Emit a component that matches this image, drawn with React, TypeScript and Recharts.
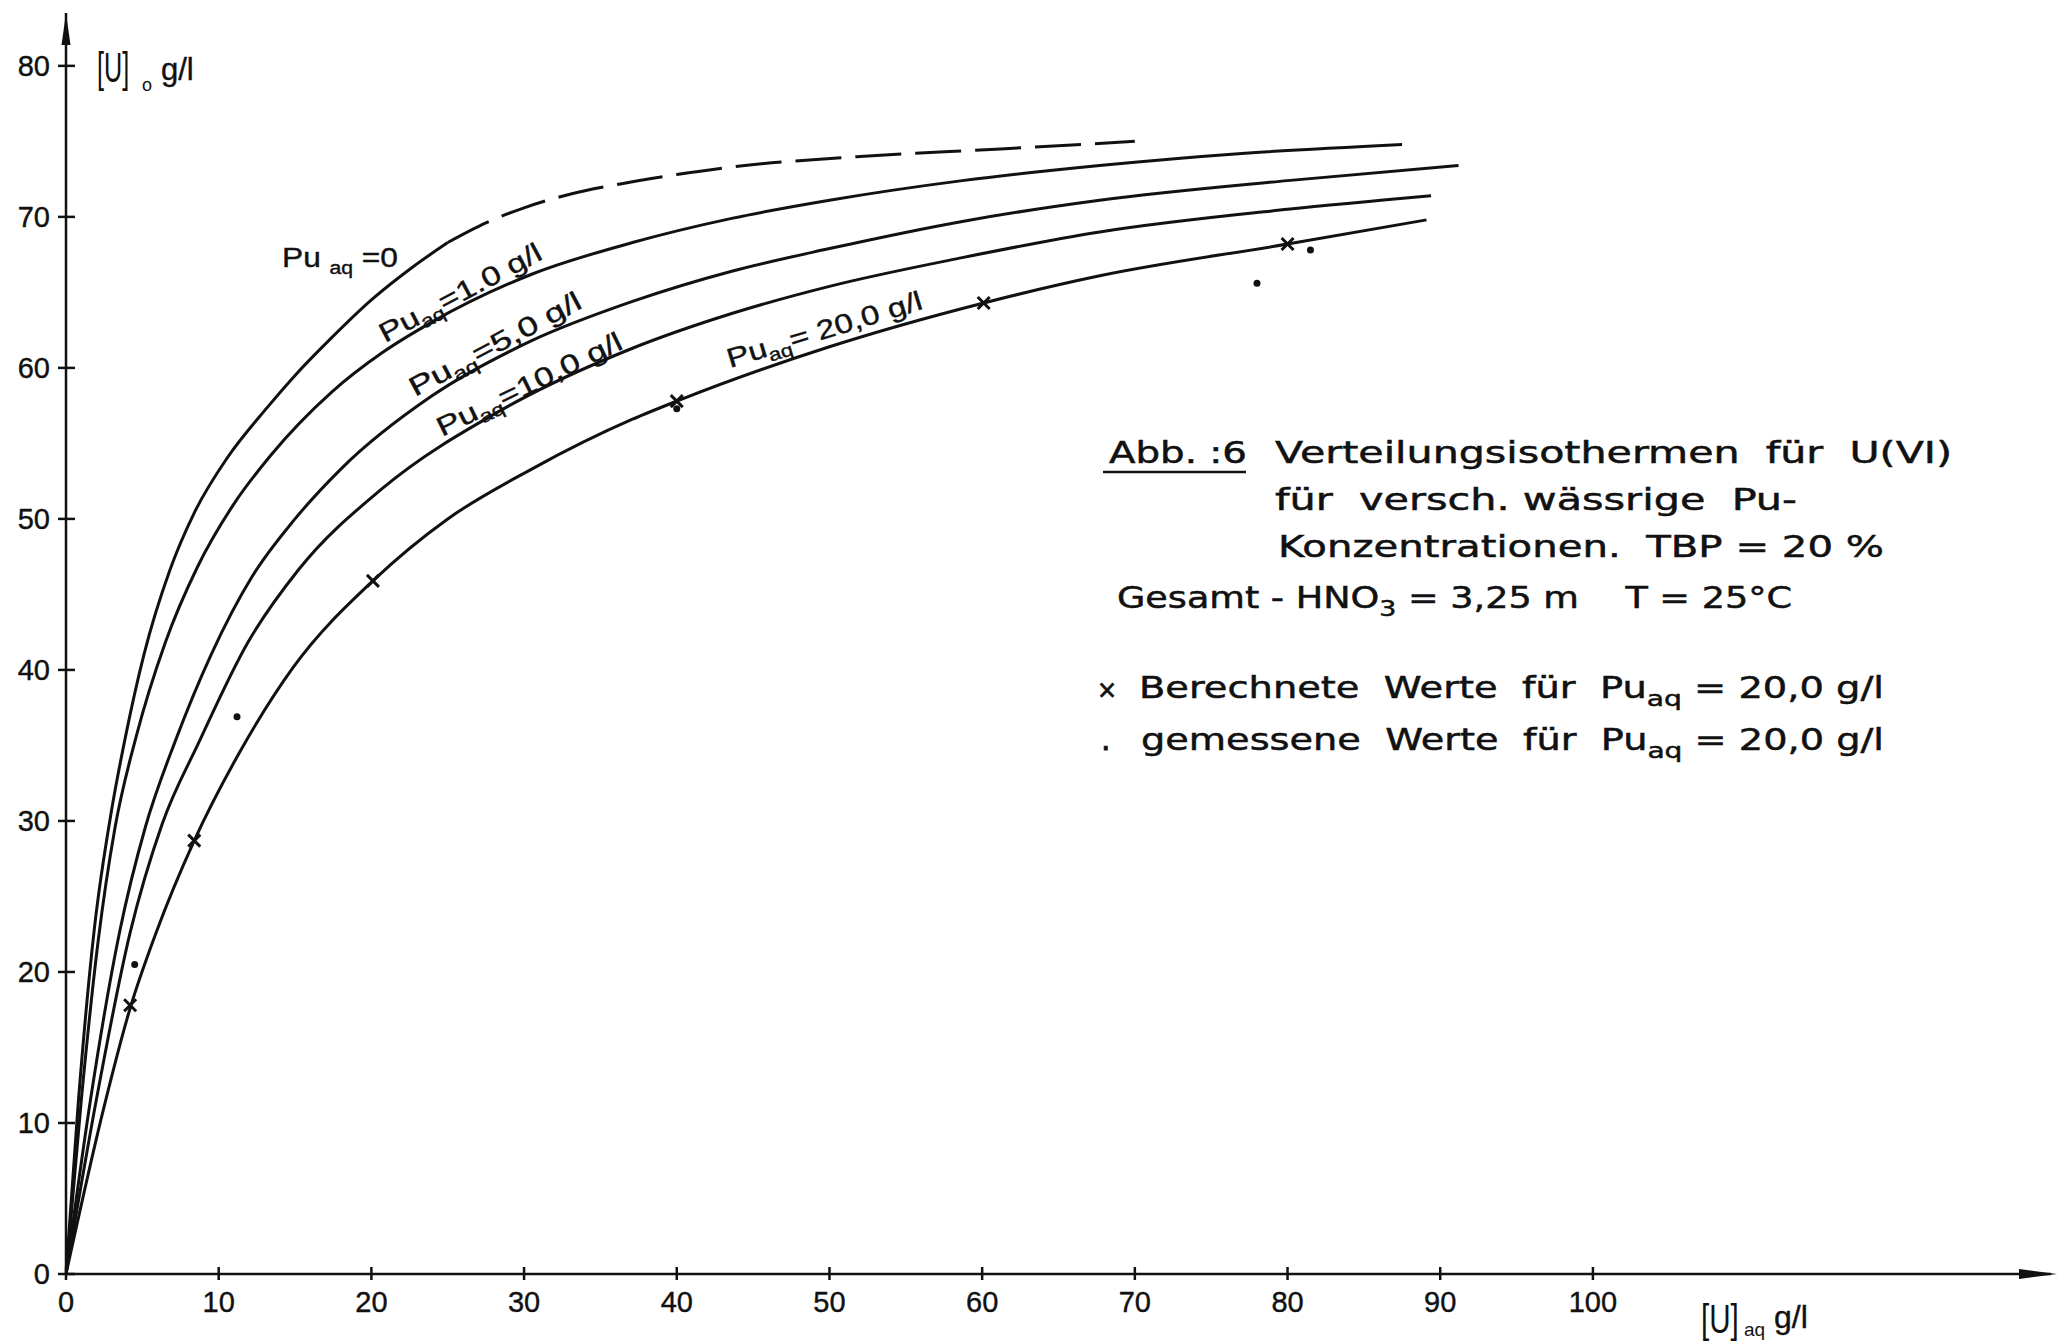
import React from 'react';
import { ComposedChart, Line, Scatter, XAxis, YAxis, ReferenceDot } from 'recharts';

const pu0X = [0, 0.8, 1.85, 3.0, 3.9, 5.1, 6.8, 8.4, 10.6, 13.2, 15.0, 17.4, 20.0, 22.6, 25.0];
const pu0Y = [0, 11.3, 22.8, 30.8, 35.6, 41.0, 46.6, 50.4, 54.1, 57.4, 59.5, 62.0, 64.5, 66.6, 68.3];
// Pu_aq = 0, extrapolated (dashed) part
const pu0DashX = [25.0, 27.5, 30.0, 33.0, 36.4, 40.0, 43.6, 52.0, 61.2, 70.0];
const pu0DashY = [68.3, 69.6, 70.6, 71.5, 72.2, 72.8, 73.3, 74.0, 74.5, 75.0];

const pu1X = [0, 1.0, 2.1, 3.2, 4.6, 6.5, 8.6, 11.0, 13.4, 17.4, 20.7, 23.9, 30.5, 37.1, 43.6, 50.0, 58.7, 67.7, 77.0, 87.5];
const pu1Y = [0, 11.5, 22.0, 29.5, 35.6, 41.8, 46.8, 51.0, 54.2, 58.4, 61.0, 63.0, 66.2, 68.3, 69.9, 71.1, 72.4, 73.4, 74.2, 74.8];

const pu5X = [0, 1.6, 3.5, 5.2, 7.2, 9.5, 12.2, 15.0, 18.0, 23.9, 30.5, 37.1, 43.6, 50.0, 58.7, 67.7, 80.0, 91.2];
const pu5Y = [0, 11.5, 22.6, 29.6, 35.4, 41.0, 46.2, 50.0, 53.3, 58.1, 61.8, 64.4, 66.4, 67.9, 69.7, 71.1, 72.4, 73.4];

const pu10X = [0, 2.0, 4.2, 6.3, 8.7, 11.9, 15.2, 20.7, 28.5, 37.1, 43.6, 50.0, 58.7, 67.7, 80.0, 89.4];
const pu10Y = [0, 11.6, 22.6, 29.8, 35.2, 41.8, 46.6, 52.0, 57.2, 61.3, 63.6, 65.4, 67.3, 69.0, 70.5, 71.4];

const pu20X = [0, 2.5, 4.2, 5.9, 8.4, 11.4, 14.9, 20.1, 25.0, 30.5, 37.1, 40.0, 50.0, 60.1, 67.7, 80.0, 89.1];
const pu20Y = [0, 11.1, 17.6, 22.6, 28.7, 34.6, 40.2, 45.9, 50.0, 53.3, 56.6, 57.8, 61.4, 64.3, 66.1, 68.2, 69.8];

// berechnete (x) und gemessene (.) Werte fuer Pu_aq = 20,0 g/l
const calcX = [4.2, 8.4, 20.1, 40.0, 60.1, 80.0];
const calcY = [17.8, 28.7, 45.9, 57.8, 64.3, 68.2];
const measX = [4.5, 11.2, 40.0, 78.0, 81.5];
const measY = [20.5, 36.9, 57.3, 65.6, 67.8];

const xTicks = [0, 10, 20, 30, 40, 50, 60, 70, 80, 90, 100];
const yTicks = [0, 10, 20, 30, 40, 50, 60, 70, 80];

const toPoints = (xs: number[], ys: number[]) => xs.map((x, i) => ({ x, y: ys[i] }));

const INK = '#111';
const FONT = '"Liberation Sans", Arial, sans-serif';
const ANNO_FONT = '"DejaVu Sans", sans-serif';

const XTick = (props: any) => {
  const { x, y, payload } = props;
  return (
    <g>
      <line x1={x} x2={x} y1={y - 7} y2={y + 6} stroke={INK} strokeWidth={2.5} />
      <text x={x} y={y + 38} textAnchor="middle" fontSize={29} fontFamily={FONT} fill={INK} stroke={INK} strokeWidth={0.4}>
        {payload.value}
      </text>
    </g>
  );
};

const YTick = (props: any) => {
  const { x, y, payload } = props;
  return (
    <g>
      <line x1={x - 8} x2={x + 9} y1={y} y2={y} stroke={INK} strokeWidth={2.5} />
      <text x={x - 16} y={y + 10} textAnchor="end" fontSize={29} fontFamily={FONT} fill={INK} stroke={INK} strokeWidth={0.4}>
        {payload.value}
      </text>
    </g>
  );
};

const Cross = (props: any) => {
  const { cx, cy } = props;
  const s = 6;
  return (
    <g stroke={INK} strokeWidth={3}>
      <line x1={cx - s} y1={cy - s} x2={cx + s} y2={cy + s} />
      <line x1={cx - s} y1={cy + s} x2={cx + s} y2={cy - s} />
    </g>
  );
};

const Dot = (props: any) => <circle cx={props.cx} cy={props.cy} r={3.5} fill={INK} />;

const ArrowRight = (props: any) => {
  const { cx, cy } = props;
  return <polygon points={`${cx + 6},${cy} ${cx - 32},${cy - 5} ${cx - 32},${cy + 5}`} fill={INK} />;
};

const ArrowUp = (props: any) => {
  const { cx, cy } = props;
  return <polygon points={`${cx},${cy} ${cx - 4.5},${cy + 32} ${cx + 4.5},${cy + 32}`} fill={INK} />;
};

const CurveLabel = ({ x, y, angle, len, value }: { x: number; y: number; angle: number; len: number; value: string }) => (
  <text
    transform={`translate(${x},${y}) rotate(${-angle})`}
    fontSize={27}
    fontFamily={FONT}
    fill={INK}
    stroke={INK}
    strokeWidth={0.4}
    textLength={len}
    lengthAdjust="spacingAndGlyphs"
  >
    Pu<tspan dy={6} fontSize={18}>aq</tspan>
    <tspan dy={-6}>{value}</tspan>
  </text>
);

const AnnoLine = ({ x, y, len, children }: { x: number; y: number; len: number; children: React.ReactNode }) => (
  <text
    x={x}
    y={y}
    fontSize={30}
    fontFamily={ANNO_FONT}
    fill={INK}
    stroke={INK}
    strokeWidth={0.5}
    textLength={len}
    lengthAdjust="spacingAndGlyphs"
    style={{ whiteSpace: 'pre' }}
  >
    {children}
  </text>
);

const W = 2052;
const H = 1335;

export default function App() {
  const lineProps = {
    type: 'monotone' as const,
    dataKey: 'y',
    stroke: INK,
    strokeWidth: 3,
    dot: false,
    activeDot: false,
    isAnimationActive: false,
    legendType: 'none' as const,
  };

  return (
    <div style={{ position: 'relative', width: W, height: H, background: '#fff' }}>
      <ComposedChart width={W} height={H} margin={{ top: 5, right: 9, left: 0, bottom: 0 }}>
        <XAxis
          type="number"
          dataKey="x"
          domain={[0, 130]}
          ticks={xTicks}
          allowDataOverflow
          height={69}
          tickSize={0}
          tickMargin={0}
          tickLine={false}
          tick={<XTick />}
          axisLine={{ stroke: INK, strokeWidth: 2.5 }}
        />
        <YAxis
          type="number"
          dataKey="y"
          domain={[0, 83.5]}
          ticks={yTicks}
          allowDataOverflow
          width={58}
          tickSize={0}
          tickMargin={0}
          tickLine={false}
          tick={<YTick />}
          axisLine={{ stroke: INK, strokeWidth: 2.5 }}
        />
        <Line {...lineProps} data={toPoints(pu0X, pu0Y)} />
        <Line {...lineProps} data={toPoints(pu0DashX, pu0DashY)} strokeDasharray="46 14" />
        <Line {...lineProps} data={toPoints(pu1X, pu1Y)} />
        <Line {...lineProps} data={toPoints(pu5X, pu5Y)} />
        <Line {...lineProps} data={toPoints(pu10X, pu10Y)} />
        <Line {...lineProps} data={toPoints(pu20X, pu20Y)} />
        <Scatter data={toPoints(calcX, calcY)} dataKey="y" shape={<Cross />} isAnimationActive={false} legendType="none" />
        <Scatter data={toPoints(measX, measY)} dataKey="y" shape={<Dot />} isAnimationActive={false} legendType="none" />
        <ReferenceDot x={130} y={0} r={0} ifOverflow="visible" shape={<ArrowRight />} />
        <ReferenceDot x={0} y={83.5} r={0} ifOverflow="visible" shape={<ArrowUp />} />
      </ComposedChart>

      <svg width={W} height={H} style={{ position: 'absolute', left: 0, top: 0, pointerEvents: 'none', overflow: 'visible' }}>
        {/* axis titles */}
        <text transform="translate(89,74) scale(0.6,1)" fontSize={42} fontFamily={FONT} fill={INK}>[U]</text>
        <text x={134} y={83} fontSize={18} fontFamily={FONT} fill={INK}>o</text>
        <text x={153} y={72} fontSize={31} fontFamily={FONT} fill={INK} stroke={INK} strokeWidth={0.4}>g/l</text>

        <text transform="translate(1693,1325) scale(0.74,1)" fontSize={40} fontFamily={FONT} fill={INK}>[U]</text>
        <text x={1736} y={1328} fontSize={19} fontFamily={FONT} fill={INK}>aq</text>
        <text x={1766} y={1320} fontSize={32} fontFamily={FONT} fill={INK} stroke={INK} strokeWidth={0.4}>g/l</text>

        {/* curve labels */}
        <text x={274} y={259} fontSize={27} fontFamily={FONT} fill={INK} stroke={INK} strokeWidth={0.4} textLength={116} lengthAdjust="spacingAndGlyphs" style={{ whiteSpace: 'pre' }}>
          Pu <tspan dy={7} fontSize={18}>aq</tspan>
          <tspan dy={-7}> =0</tspan>
        </text>
        <CurveLabel x={377} y={335} angle={28} len={180} value="=1.0 g/l" />
        <CurveLabel x={407} y={389} angle={28} len={191} value="=5,0 g/l" />
        <CurveLabel x={434} y={429} angle={26} len={203} value="=10,0 g/l" />
        <CurveLabel x={722} y={360} angle={17} len={203} value="= 20,0 g/l" />

        {/* caption */}
        <AnnoLine x={1101} y={455} len={138}>Abb. :6</AnnoLine>
        <line x1={1095} x2={1238} y1={464} y2={464} stroke={INK} strokeWidth={2.5} />
        <AnnoLine x={1267} y={455} len={677}>Verteilungsisothermen  für  U(VI)</AnnoLine>
        <AnnoLine x={1267} y={502} len={522}>für  versch. wässrige  Pu-</AnnoLine>
        <AnnoLine x={1270} y={549} len={606}>Konzentrationen.  TBP = 20 %</AnnoLine>
        <AnnoLine x={1109} y={600} len={675}>
          Gesamt - HNO<tspan dy={8} fontSize={22}>3</tspan>
          <tspan dy={-8}> = 3,25 m    T = 25°C</tspan>
        </AnnoLine>
        <text x={1089} y={690} fontSize={24} fontFamily={ANNO_FONT} fill={INK} stroke={INK} strokeWidth={0.8}>×</text>
        <AnnoLine x={1131} y={690} len={745}>
          Berechnete  Werte  für  Pu<tspan dy={8} fontSize={22}>aq</tspan>
          <tspan dy={-8}> = 20,0 g/l</tspan>
        </AnnoLine>
        <text x={1093} y={742} fontSize={30} fontFamily={ANNO_FONT} fill={INK} stroke={INK} strokeWidth={0.8}>.</text>
        <AnnoLine x={1133} y={742} len={743}>
          gemessene  Werte  für  Pu<tspan dy={8} fontSize={22}>aq</tspan>
          <tspan dy={-8}> = 20,0 g/l</tspan>
        </AnnoLine>
      </svg>
    </div>
  );
}
